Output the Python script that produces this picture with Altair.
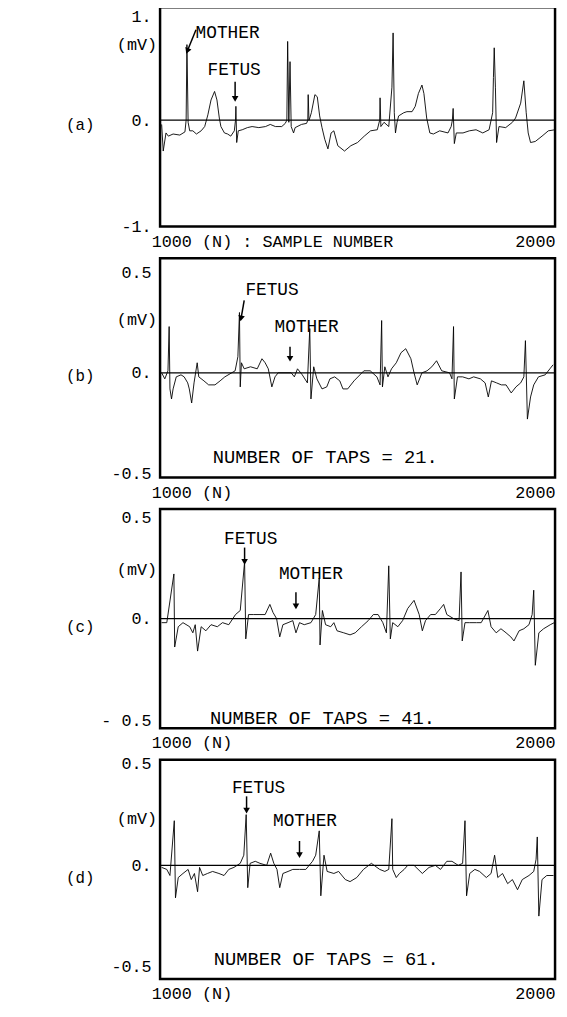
import altair as alt
import pandas as pd

FONT = "Liberation Mono"

# ---------------- data (sample number, mV) ----------------
trace_a = [
    (1004, -0.04), (1008, -0.29), (1015, -0.12), (1021, -0.15), (1033, -0.13), (1050, -0.14),
    (1063, -0.11), (1066, 0.0), (1068, 0.71), (1071, -0.02), (1075, -0.10), (1083, -0.10),
    (1092, -0.13), (1104, -0.10), (1113, -0.06), (1121, 0.05), (1129, 0.19), (1138, 0.27),
    (1144, 0.19), (1150, 0.02), (1154, -0.06), (1163, -0.12), (1171, -0.13), (1179, -0.15),
    (1188, -0.10), (1191, 0.0), (1192, 0.13), (1194, -0.21), (1198, -0.10), (1208, -0.09),
    (1221, -0.07), (1233, -0.06), (1250, -0.07), (1267, -0.06), (1279, -0.04), (1292, -0.06),
    (1308, -0.06), (1317, -0.03), (1321, 0.0), (1323, 0.74), (1326, -0.02), (1329, 0.55),
    (1332, -0.06), (1338, -0.12), (1342, -0.07), (1358, -0.04), (1371, -0.03), (1374, 0.0),
    (1375, 0.24), (1377, 0.0), (1379, 0.02), (1383, 0.07), (1392, 0.24), (1398, 0.22),
    (1404, 0.04), (1410, -0.07), (1417, -0.18), (1425, -0.27), (1433, -0.12), (1440, -0.10),
    (1450, -0.24), (1467, -0.29), (1483, -0.24), (1500, -0.21), (1517, -0.15), (1533, -0.10),
    (1550, -0.09), (1556, 0.0), (1557, 0.21), (1559, -0.06), (1567, -0.02), (1579, -0.06),
    (1587, 0.31), (1590, 0.82), (1593, 0.07), (1596, -0.12), (1600, -0.02), (1604, 0.04),
    (1617, 0.07), (1625, 0.08), (1638, 0.08), (1646, 0.13), (1654, 0.25), (1663, 0.33),
    (1668, 0.25), (1675, 0.02), (1683, -0.12), (1692, -0.13), (1708, -0.10), (1729, -0.12),
    (1737, -0.06), (1740, 0.0), (1742, 0.11), (1745, -0.22), (1750, -0.12), (1767, -0.12),
    (1783, -0.10), (1800, -0.09), (1817, -0.12), (1833, -0.09), (1842, 0.07), (1844, 0.40),
    (1846, 0.68), (1849, 0.31), (1852, -0.21), (1858, -0.06), (1875, -0.07), (1892, -0.02),
    (1900, 0.02), (1913, 0.16), (1921, 0.37), (1927, 0.07), (1932, -0.12), (1938, -0.21),
    (1950, -0.20), (1967, -0.15), (1983, -0.10), (2000, -0.09),
]

trace_b = [
    (1004, 0.0), (1012, -0.03), (1020, 0.01), (1023, 0.23), (1025, -0.08), (1029, -0.13),
    (1033, -0.08), (1041, -0.02), (1053, -0.01), (1061, -0.02), (1070, -0.05), (1074, -0.08),
    (1080, -0.15), (1086, -0.05), (1094, 0.05), (1098, -0.02), (1111, -0.04), (1123, -0.06),
    (1139, -0.06), (1152, -0.04), (1164, -0.02), (1190, 0.01), (1197, 0.08), (1201, 0.30),
    (1203, -0.07), (1206, 0.05), (1213, 0.02), (1229, 0.03), (1246, 0.02), (1258, 0.07),
    (1266, 0.05), (1274, 0.02), (1283, -0.07), (1291, -0.02), (1299, 0.0), (1332, 0.0),
    (1340, -0.02), (1348, 0.02), (1360, -0.01), (1373, -0.05), (1379, 0.22), (1382, -0.13),
    (1389, 0.03), (1397, -0.03), (1410, -0.08), (1422, -0.07), (1430, -0.03), (1442, -0.02),
    (1455, -0.04), (1463, -0.08), (1475, -0.08), (1491, -0.04), (1516, 0.01), (1532, 0.01),
    (1549, -0.02), (1557, -0.06), (1561, 0.26), (1563, -0.07), (1569, 0.03), (1577, -0.02),
    (1586, 0.02), (1598, 0.05), (1610, 0.10), (1622, 0.12), (1635, 0.07), (1643, 0.0),
    (1651, -0.06), (1663, 0.0), (1676, 0.01), (1688, 0.03), (1700, 0.06), (1713, 0.01),
    (1733, 0.0), (1739, -0.03), (1743, 0.23), (1745, -0.13), (1753, -0.02), (1766, -0.02),
    (1782, -0.03), (1794, -0.02), (1811, -0.03), (1823, -0.05), (1831, -0.12), (1839, -0.04),
    (1852, -0.05), (1864, -0.06), (1876, -0.06), (1889, -0.10), (1901, -0.07), (1913, -0.05),
    (1921, -0.02), (1925, 0.16), (1930, -0.23), (1938, -0.12), (1946, -0.06), (1958, -0.02),
    (1975, -0.01), (1987, 0.02), (1995, 0.04),
]

trace_c = [
    (1004, -0.02), (1017, -0.02), (1035, 0.22), (1037, -0.14), (1046, -0.04), (1058, -0.02),
    (1075, -0.04), (1083, -0.07), (1089, -0.03), (1095, -0.16), (1104, -0.04), (1116, -0.06),
    (1129, -0.03), (1145, -0.04), (1158, -0.02), (1174, -0.03), (1191, 0.02), (1203, 0.04),
    (1214, 0.28), (1217, -0.10), (1224, 0.02), (1237, 0.02), (1253, 0.02), (1266, 0.02),
    (1278, 0.07), (1286, 0.03), (1295, 0.0), (1303, -0.09), (1311, -0.03), (1324, -0.02),
    (1336, -0.01), (1344, -0.07), (1353, -0.02), (1365, -0.03), (1382, -0.02), (1394, 0.02),
    (1403, 0.20), (1405, -0.13), (1411, 0.04), (1419, -0.03), (1432, -0.04), (1440, -0.02),
    (1448, -0.06), (1465, -0.07), (1481, -0.08), (1494, -0.07), (1510, -0.04), (1527, -0.01),
    (1540, 0.02), (1552, 0.02), (1564, -0.02), (1573, -0.07), (1579, 0.26), (1583, -0.10),
    (1589, -0.02), (1602, -0.04), (1614, -0.01), (1627, 0.05), (1643, 0.09), (1656, 0.02),
    (1664, -0.06), (1672, -0.01), (1685, 0.02), (1697, 0.02), (1710, 0.05), (1718, 0.07),
    (1726, 0.02), (1743, 0.0), (1757, -0.01), (1762, 0.23), (1765, -0.11), (1772, -0.02),
    (1784, -0.02), (1801, -0.02), (1813, -0.02), (1830, 0.04), (1838, -0.04), (1851, -0.07),
    (1863, -0.05), (1876, -0.07), (1888, -0.09), (1896, -0.11), (1909, -0.06), (1921, -0.05),
    (1934, -0.03), (1942, 0.02), (1946, 0.14), (1950, -0.23), (1959, -0.07), (1971, -0.05),
    (1988, -0.03), (1998, -0.02),
]

trace_d = [
    (1004, -0.01), (1017, -0.02), (1025, -0.05), (1036, 0.22), (1039, -0.16), (1046, -0.06),
    (1058, -0.04), (1071, -0.02), (1079, -0.07), (1087, -0.04), (1095, -0.13), (1100, -0.01),
    (1108, -0.05), (1120, -0.04), (1133, -0.03), (1149, -0.04), (1162, -0.05), (1174, -0.02),
    (1187, -0.01), (1203, 0.01), (1212, 0.05), (1218, 0.25), (1222, -0.11), (1228, 0.01),
    (1241, 0.02), (1253, 0.01), (1270, 0.0), (1280, 0.06), (1288, 0.01), (1296, -0.02),
    (1303, -0.11), (1311, -0.04), (1324, -0.03), (1336, -0.02), (1353, -0.02), (1369, -0.02),
    (1386, 0.02), (1394, 0.05), (1403, 0.17), (1407, -0.15), (1415, 0.05), (1423, -0.03),
    (1440, -0.04), (1452, -0.03), (1469, -0.07), (1481, -0.08), (1498, -0.06), (1515, -0.02),
    (1535, 0.01), (1556, -0.02), (1569, -0.03), (1579, -0.02), (1587, 0.23), (1589, -0.02),
    (1598, -0.06), (1606, -0.04), (1618, -0.02), (1627, 0.0), (1643, 0.0), (1664, -0.04),
    (1681, -0.01), (1697, 0.0), (1710, -0.02), (1726, 0.02), (1739, 0.02), (1755, 0.0),
    (1766, 0.01), (1772, 0.22), (1776, -0.15), (1784, -0.04), (1797, -0.02), (1809, -0.03),
    (1826, -0.06), (1838, -0.04), (1847, 0.05), (1855, -0.06), (1867, -0.04), (1880, -0.09),
    (1892, -0.07), (1905, -0.12), (1917, -0.07), (1934, -0.05), (1946, -0.03), (1952, 0.03),
    (1955, 0.14), (1959, -0.25), (1967, -0.07), (1979, -0.05), (1996, -0.05),
]

x_ticks = [1000, 2000]
y_ticks_a = [-1, 0, 1]
y_ticks_bcd = [-0.5, 0, 0.5]

# annotations: (sample, mV, text)
notes_a = [(1090, 0.82, "MOTHER"), (1120, 0.47, "FETUS")]
notes_b = [(1216, 0.41, "FETUS"), (1290, 0.23, "MOTHER")]
notes_c = [(1162, 0.39, "FETUS"), (1301, 0.22, "MOTHER")]
notes_d = [(1182, 0.38, "FETUS"), (1286, 0.22, "MOTHER")]
taps_b = [(1418, -0.42, "NUMBER OF TAPS = 21.")]
taps_c = [(1411, -0.49, "NUMBER OF TAPS = 41.")]
taps_d = [(1421, -0.46, "NUMBER OF TAPS = 61.")]
# arrows: (start sample, start mV, tip sample, tip mV, head angle)
arrows_a = [(1091, 0.85, 1069, 0.65, 22), (1190, 0.36, 1190, 0.20, 0)]
arrows_b = [(1213, 0.36, 1205, 0.27, 11), (1329, 0.13, 1329, 0.07, 0)]
arrows_c = [(1214, 0.35, 1214, 0.28, 0), (1344, 0.13, 1344, 0.06, 0)]
arrows_d = [(1219, 0.34, 1219, 0.27, 0), (1353, 0.12, 1353, 0.05, 0)]
mv_pos = {"a": 0.71, "b": 0.26, "c": 0.24, "d": 0.23}

W, H = 400, 222


def panel(trace, ydom, yvals, yexpr, side, xtitle, mv, notes, taps, arrows):
    df = pd.DataFrame(trace, columns=["n", "v"])
    xaxis = alt.Axis(
        values=x_ticks, format="d", labelFlush=True,
        labelOffset={"condition": {"test": "datum.value < 1500", "value": -9}, "value": 0},
        ticks=False, grid=False, domain=False,
        labelFont=FONT, labelFontSize=17, labelPadding=7, labelColor="black",
        title=xtitle, titleFont=FONT, titleFontSize=17, titleFontWeight="normal",
        titleColor="black", titleAnchor="start", titleAlign="left", titleBaseline="top",
        titleX=42, titleY=7,
    )
    yaxis = alt.Axis(
        values=yvals, labelExpr=yexpr, ticks=False, grid=False, domain=False,
        labelOffset={"condition": {"test": "datum.value == 1", "value": 3}, "value": 0},
        labelFont=FONT, labelFontSize=17, labelPadding=9, labelColor="black",
        title=side, titleFont=FONT, titleFontSize=16, titleFontWeight="normal",
        titleColor="black", titleAngle=0, titleAlign="right", titleBaseline="middle",
        titleX=-67, titleY=119,
    )
    x = alt.X("n:Q", scale=alt.Scale(domain=[1000, 2000], nice=False, zero=False), axis=xaxis)
    y = alt.Y("v:Q", scale=alt.Scale(domain=ydom, nice=False, zero=False), axis=yaxis)
    line = alt.Chart(df).mark_line(color="black", strokeWidth=0.9).encode(x=x, y=y)
    zero = alt.Chart(pd.DataFrame({"v": [0]})).mark_rule(color="black", strokeWidth=1.3).encode(y="v:Q")
    ndf = pd.DataFrame(notes, columns=["n", "v", "t"])
    note_txt = alt.Chart(ndf).mark_text(align="left", baseline="middle", font=FONT,
                                        fontSize=18, color="black").encode(x="n:Q", y="v:Q", text="t:N")
    layers = [line, zero, note_txt]
    if taps:
        tdf = pd.DataFrame(taps, columns=["n", "v", "t"])
        layers.append(alt.Chart(tdf).mark_text(align="center", baseline="middle", font=FONT,
                                               fontSize=19, color="black")
                      .encode(x="n:Q", y="v:Q", text="t:N"))
    adf = pd.DataFrame(arrows, columns=["n", "v", "n2", "v2", "ang"])
    layers.append(alt.Chart(adf).mark_rule(color="black", strokeWidth=1.5)
                  .encode(x="n:Q", y="v:Q", x2="n2:Q", y2="v2:Q"))
    layers.append(alt.Chart(adf).mark_point(shape="triangle-down", filled=True, size=45,
                                            color="black", opacity=1)
                  .encode(x="n2:Q", y="v2:Q", angle=alt.Angle("ang:Q", scale=None)))
    mdf = pd.DataFrame({"n": [1000], "v": [mv], "t": ["(mV)"]})
    layers.append(alt.Chart(mdf).mark_text(align="right", baseline="middle", dx=-3, font=FONT,
                                           fontSize=17, color="black")
                  .encode(x="n:Q", y="v:Q", text="t:N"))
    return alt.layer(*layers).properties(width=W, height=H)


pa = panel(trace_a, [-1.0, 1.06], y_ticks_a,
           "datum.value == 1 ? '1.' : datum.value == 0 ? '0.' : '-1.'",
           "(a)", "(N) : SAMPLE NUMBER", mv_pos["a"], notes_a, None, arrows_a)
pb = panel(trace_b, [-0.52, 0.57], y_ticks_bcd,
           "datum.value > 0 ? '0.5' : datum.value == 0 ? '0.\u00a0' : '-0.5'",
           "(b)", "(N)", mv_pos["b"], notes_b, taps_b, arrows_b)
pc = panel(trace_c, [-0.54, 0.54], y_ticks_bcd,
           "datum.value > 0 ? '0.5' : datum.value == 0 ? '0.\u00a0' : '- 0.5'",
           "(c)", "(N)", mv_pos["c"], notes_c, taps_c, arrows_c)
pd_ = panel(trace_d, [-0.56, 0.52], y_ticks_bcd,
            "datum.value > 0 ? '0.5' : datum.value == 0 ? '0.\u00a0' : '-0.5'",
            "(d)", "(N)", mv_pos["d"], notes_d, taps_d, arrows_d)

chart = (
    alt.vconcat(pa, pb, pc, pd_, spacing=32, bounds="flush")
    .properties(padding={"left": 56, "top": -9, "right": 0, "bottom": 0}, background="white")
    .configure_view(stroke="black", strokeWidth=2.5)
)

chart.save("out.html", embed_options={"renderer": "svg", "actions": False})
